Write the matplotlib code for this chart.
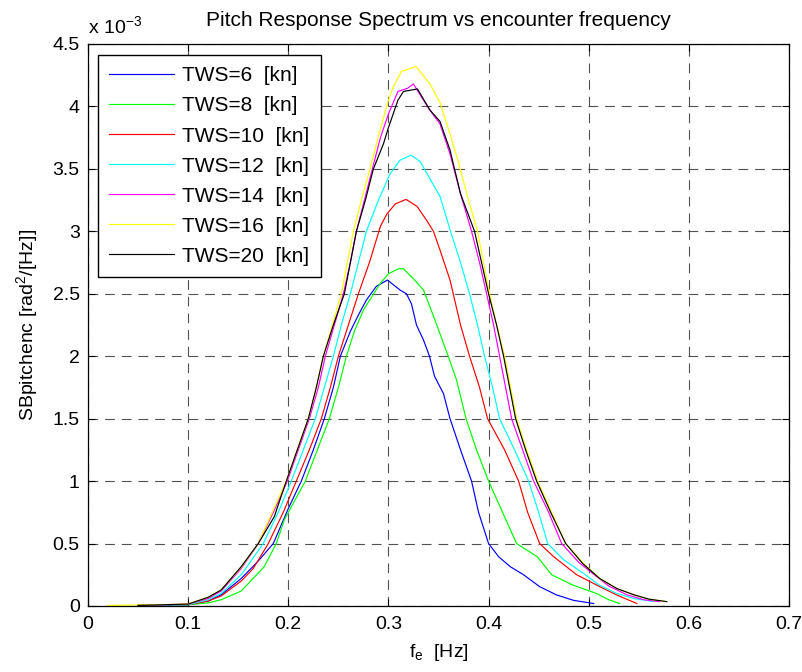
import matplotlib
matplotlib.use("Agg")
import matplotlib.pyplot as plt

plt.rcParams['font.family'] = ['Liberation Sans', 'DejaVu Sans']
plt.rcParams['mathtext.fontset'] = 'custom'
plt.rcParams['mathtext.rm'] = 'Liberation Sans'
plt.rcParams['mathtext.it'] = 'Liberation Sans'
plt.rcParams['lines.scale_dashes'] = False

# Data (y values in units of 1e-3 rad^2/Hz)
x_tws6 = [0.055, 0.10, 0.12, 0.133, 0.153, 0.17, 0.185, 0.20, 0.213, 0.225, 0.236, 0.245, 0.252, 0.262, 0.27, 0.278, 0.288,
          0.299, 0.3116, 0.318, 0.323, 0.328, 0.335, 0.341, 0.346, 0.355, 0.3615, 0.372, 0.383, 0.39, 0.400, 0.410,
          0.4216, 0.435, 0.451, 0.468, 0.485, 0.505]
y_tws6 = [0.005, 0.01, 0.04, 0.09, 0.22, 0.36, 0.5, 0.78, 1.0, 1.25, 1.5, 1.75, 2.0, 2.2, 2.33, 2.45, 2.56,
          2.61, 2.53, 2.5, 2.42, 2.25, 2.13, 2.0, 1.84, 1.70, 1.5, 1.25, 1.0, 0.75, 0.5, 0.395,
          0.315, 0.25, 0.155, 0.088, 0.045, 0.02]

x_tws8 = [0.05, 0.10, 0.12, 0.133, 0.153, 0.176, 0.188, 0.196, 0.217, 0.229, 0.241, 0.25, 0.258, 0.266, 0.275, 0.2916, 0.30,
          0.31, 0.315, 0.325, 0.335, 0.345, 0.3515, 0.3597, 0.368, 0.3775, 0.388, 0.400, 0.414, 0.428, 0.4486, 0.463,
          0.484, 0.508, 0.52, 0.531]
y_tws8 = [0.005, 0.01, 0.025, 0.05, 0.12, 0.315, 0.5, 0.69, 1.0, 1.25, 1.5, 1.75, 2.0, 2.2, 2.37, 2.58, 2.66,
          2.70, 2.70, 2.62, 2.53, 2.32, 2.18, 2.0, 1.81, 1.5, 1.25, 1.0, 0.75, 0.5, 0.395, 0.25,
          0.168, 0.10, 0.05, 0.02]

x_tws10 = [0.05, 0.10, 0.12, 0.133, 0.153, 0.165, 0.18, 0.195, 0.208, 0.221, 0.233, 0.242, 0.250, 0.260, 0.270, 0.281, 0.292,
           0.2985, 0.307, 0.3175, 0.3285, 0.338, 0.345, 0.3515, 0.3615, 0.372, 0.381, 0.391, 0.399, 0.416, 0.430, 0.439,
           0.451, 0.465, 0.488, 0.511, 0.528, 0.548]
y_tws10 = [0.005, 0.01, 0.04, 0.08, 0.2, 0.3, 0.5, 0.75, 1.0, 1.25, 1.5, 1.75, 2.0, 2.25, 2.5, 2.75, 3.04,
           3.14, 3.22, 3.256, 3.20, 3.09, 3.0, 2.85, 2.61, 2.25, 2.0, 1.75, 1.5, 1.25, 1.0, 0.75,
           0.5, 0.395, 0.25, 0.155, 0.088, 0.02]

x_tws12 = [0.05, 0.10, 0.12, 0.133, 0.153, 0.175, 0.19, 0.203, 0.215, 0.227, 0.236, 0.245, 0.253, 0.262, 0.27, 0.278, 0.29,
           0.3016, 0.3116, 0.3225, 0.3316, 0.3415, 0.3515, 0.362, 0.372, 0.381, 0.389, 0.396, 0.404, 0.411, 0.426, 0.440,
           0.45, 0.459, 0.475, 0.495, 0.51, 0.528, 0.545, 0.565]
y_tws12 = [0.005, 0.01, 0.05, 0.1, 0.25, 0.5, 0.75, 1.0, 1.25, 1.5, 1.75, 2.0, 2.25, 2.5, 2.75, 3.0, 3.25,
           3.46, 3.57, 3.61, 3.56, 3.42, 3.28, 3.0, 2.75, 2.5, 2.25, 2.0, 1.75, 1.5, 1.25, 1.0,
           0.75, 0.5, 0.37, 0.26, 0.17, 0.10, 0.06, 0.035]

x_tws14 = [0.05, 0.10, 0.12, 0.133, 0.153, 0.17, 0.185, 0.199, 0.21, 0.221, 0.23, 0.237, 0.246, 0.255, 0.262, 0.268, 0.276,
           0.284, 0.292, 0.30, 0.3095, 0.319, 0.325, 0.335, 0.3415, 0.3515, 0.3615, 0.372, 0.383, 0.391, 0.398, 0.405, 0.411,
           0.417, 0.423, 0.434, 0.445, 0.46, 0.473, 0.49, 0.508, 0.52, 0.538, 0.555, 0.571]
y_tws14 = [0.005, 0.015, 0.06, 0.12, 0.3, 0.5, 0.75, 1.0, 1.25, 1.5, 1.75, 2.0, 2.25, 2.5, 2.75, 3.0, 3.25,
           3.5, 3.75, 3.94, 4.12, 4.145, 4.18, 4.05, 3.97, 3.86, 3.62, 3.3, 3.0, 2.75, 2.5, 2.25, 2.0,
           1.75, 1.5, 1.25, 1.0, 0.75, 0.5, 0.35, 0.235, 0.16, 0.09, 0.05, 0.035]

x_tws16 = [0.02, 0.10, 0.12, 0.133, 0.153, 0.17, 0.184, 0.198, 0.209, 0.22, 0.228, 0.235, 0.244, 0.253, 0.259, 0.265, 0.273,
           0.2816, 0.2916, 0.30, 0.305, 0.313, 0.3275, 0.3415, 0.3515, 0.3615, 0.37, 0.38, 0.389, 0.395, 0.401, 0.408,
           0.416, 0.422, 0.428, 0.438, 0.449, 0.463, 0.477, 0.495, 0.511, 0.528, 0.545, 0.56, 0.578]
y_tws16 = [0.005, 0.015, 0.07, 0.13, 0.31, 0.5, 0.75, 1.0, 1.25, 1.5, 1.75, 2.0, 2.25, 2.5, 2.75, 3.0, 3.25,
           3.5, 3.81, 4.05, 4.16, 4.28, 4.32, 4.18, 4.03, 3.78, 3.55, 3.25, 3.0, 2.75, 2.5, 2.25,
           2.0, 1.75, 1.5, 1.25, 1.0, 0.75, 0.5, 0.34, 0.22, 0.14, 0.09, 0.055, 0.035]

x_tws20 = [0.05, 0.10, 0.12, 0.133, 0.153, 0.17, 0.186, 0.198, 0.209, 0.220, 0.228, 0.235, 0.245, 0.256, 0.262, 0.268, 0.277,
           0.285, 0.295, 0.30, 0.3095, 0.315, 0.329, 0.3415, 0.3515, 0.3615, 0.372, 0.386, 0.393, 0.40, 0.408, 0.415,
           0.421, 0.427, 0.437, 0.448, 0.462, 0.477, 0.494, 0.511, 0.528, 0.545, 0.56, 0.578]
y_tws20 = [0.005, 0.015, 0.07, 0.128, 0.315, 0.5, 0.715, 1.0, 1.25, 1.5, 1.75, 2.0, 2.25, 2.5, 2.75, 3.0, 3.25,
           3.5, 3.7, 3.83, 4.05, 4.12, 4.14, 3.97, 3.88, 3.65, 3.3, 3.0, 2.75, 2.5, 2.25, 2.0,
           1.75, 1.5, 1.25, 1.0, 0.75, 0.5, 0.34, 0.22, 0.14, 0.09, 0.055, 0.035]

labels = ['TWS=6  [kn]', 'TWS=8  [kn]', 'TWS=10  [kn]', 'TWS=12  [kn]',
          'TWS=14  [kn]', 'TWS=16  [kn]', 'TWS=20  [kn]']
colors = ['#0000ff', '#00ff00', '#ff0000', '#00ffff', '#ff00ff', '#ffff00', '#000000']
xs = [x_tws6, x_tws8, x_tws10, x_tws12, x_tws14, x_tws16, x_tws20]
ys = [y_tws6, y_tws8, y_tws10, y_tws12, y_tws14, y_tws16, y_tws20]

xticks = [0, 0.1, 0.2, 0.3, 0.4, 0.5, 0.6, 0.7]
xticklabels = ['0', '0.1', '0.2', '0.3', '0.4', '0.5', '0.6', '0.7']
yticks = [0, 0.5, 1, 1.5, 2, 2.5, 3, 3.5, 4, 4.5]
yticklabels = ['0', '0.5', '1', '1.5', '2', '2.5', '3', '3.5', '4', '4.5']

fig = plt.figure(figsize=(8.03, 6.72), dpi=100)
ax = fig.add_axes([88/803, 66/672, 701/803, 562/672])

for x, y, c, lab in zip(xs, ys, colors, labels):
    ax.plot(x, y, color=c, lw=0.85, label=lab)

ax.set_xlim(0, 0.7)
ax.set_ylim(0, 4.5)
ax.set_xticks(xticks)
ax.set_xticklabels(xticklabels)
ax.set_yticks(yticks)
ax.set_yticklabels(yticklabels)
ax.tick_params(direction='in', top=True, right=True, labelsize=14, length=5, width=0.8)
ax.tick_params(axis='y', pad=6)
ax.tick_params(axis='x', pad=7)
for s in ax.spines.values():
    s.set_linewidth(0.9)
ax.grid(True, color='#333333', linestyle=(0, (7, 5)), linewidth=0.8, alpha=0.85)

ax.set_title('Pitch Response Spectrum vs encounter frequency', fontsize=15, pad=13)
ax.set_xlabel('f$_\\mathregular{e}$  [Hz]', fontsize=14, labelpad=7)
ax.set_ylabel('SBpitchenc [rad$^\\mathregular{2}$/[Hz]]', fontsize=14, labelpad=9)
ax.text(0.0, 1.012, 'x 10$^{\\mathregular{-3}}$', transform=ax.transAxes, fontsize=14, ha='left', va='bottom')

leg = ax.legend(loc='upper left', bbox_to_anchor=(10/701, 1 - 11/562), borderaxespad=0,
                fontsize=15, fancybox=False, edgecolor='black', framealpha=1,
                handlelength=3.1, handletextpad=0.38, labelspacing=0.53, borderpad=0.55)
leg.get_frame().set_linewidth(1.0)

fig.savefig('out.png', dpi=100)
